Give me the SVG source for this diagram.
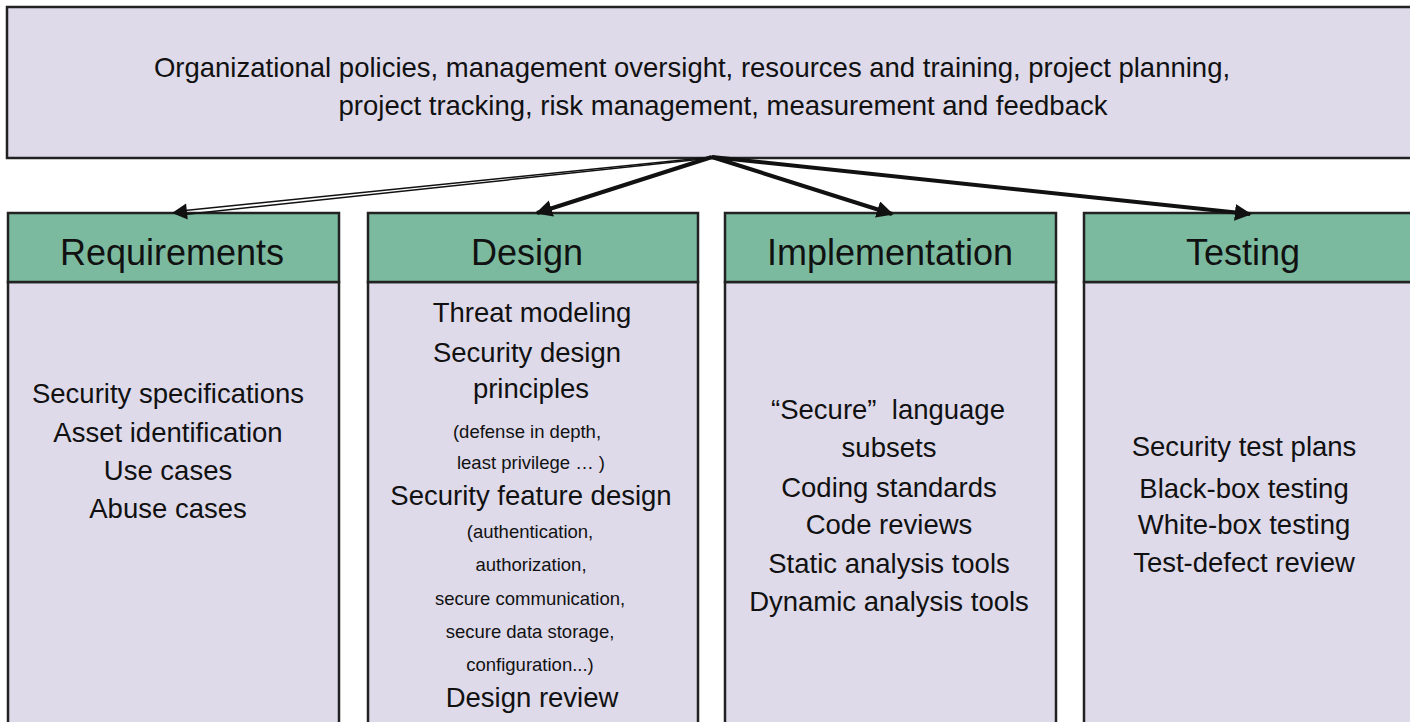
<svg xmlns="http://www.w3.org/2000/svg" width="1410" height="722" viewBox="0 0 1410 722">
<style>
.box{fill:#dedaea;stroke:#222;stroke-width:2.5}
.hdr{fill:#7bba9f;stroke:#222;stroke-width:2.5}
text{font-family:"Liberation Sans",Arial,sans-serif;fill:#111;text-anchor:middle}
.top{font-size:27.5px}
.h{font-size:36px}
.b{font-size:27.5px}
.s{font-size:18.5px}
.c{stroke:#111;stroke-width:4;fill:none}
</style>
<defs>
<marker id="ah" viewBox="0 0 10 10" refX="9" refY="5" markerWidth="4.2" markerHeight="4.2" orient="auto" markerUnits="strokeWidth">
<path d="M0,0 L10,5 L0,10 z" fill="#111"/>
</marker>
</defs>
<g id="top">
<rect class="box" x="7" y="7" width="1410" height="151"/>
<text class="top" x="692" y="77">Organizational policies, management oversight, resources and training, project planning,</text>
<text class="top" x="723" y="115">project tracking, risk management, measurement and feedback</text>
</g>
<g id="requirements">
<rect class="box" x="8" y="282" width="331" height="450"/>
<rect class="hdr" x="8" y="213" width="331" height="69"/>
<text class="h" x="172" y="265">Requirements</text>
<text class="b" x="168" y="403">Security specifications</text>
<text class="b" x="168" y="442">Asset identification</text>
<text class="b" x="168" y="480">Use cases</text>
<text class="b" x="168" y="518">Abuse cases</text>
</g>
<g id="design">
<rect class="box" x="368" y="282" width="330" height="450"/>
<rect class="hdr" x="368" y="213" width="330" height="69"/>
<text class="h" x="527" y="265">Design</text>
<text class="b" x="532" y="322">Threat modeling</text>
<text class="b" x="527" y="362">Security design</text>
<text class="b" x="531" y="398">principles</text>
<text class="s" x="527" y="438">(defense in depth,</text>
<text class="s" x="531" y="469">least privilege … )</text>
<text class="b" x="531" y="505">Security feature design</text>
<text class="s" x="530" y="538">(authentication,</text>
<text class="s" x="531" y="571">authorization,</text>
<text class="s" x="530" y="605">secure communication,</text>
<text class="s" x="530" y="638">secure data storage,</text>
<text class="s" x="530" y="671">configuration...)</text>
<text class="b" x="532" y="707">Design review</text>
</g>
<g id="implementation">
<rect class="box" x="725" y="282" width="331" height="450"/>
<rect class="hdr" x="725" y="213" width="331" height="69"/>
<text class="h" x="890" y="265">Implementation</text>
<text class="b" x="888" y="419" xml:space="preserve">“Secure”  language</text>
<text class="b" x="889" y="457">subsets</text>
<text class="b" x="889" y="497">Coding standards</text>
<text class="b" x="889" y="534">Code reviews</text>
<text class="b" x="889" y="573">Static analysis tools</text>
<text class="b" x="889" y="611">Dynamic analysis tools</text>
</g>
<g id="testing">
<rect class="box" x="1084" y="282" width="340" height="450"/>
<rect class="hdr" x="1084" y="213" width="340" height="69"/>
<text class="h" x="1243" y="265">Testing</text>
<text class="b" x="1244" y="456">Security test plans</text>
<text class="b" x="1244" y="498">Black-box testing</text>
<text class="b" x="1244" y="534">White-box testing</text>
<text class="b" x="1244" y="572">Test-defect review</text>
</g>
<g id="connectors">
<line x1="712" y1="157" x2="180" y2="211" stroke="#111" stroke-width="1.5"/>
<line x1="712" y1="158" x2="180" y2="215" stroke="#111" stroke-width="1.5"/>
<path d="M172,213 L187,205 L187,221 z" fill="#111" transform="rotate(-6 172 213)"/>
<line class="c" x1="712" y1="157" x2="537" y2="213" marker-end="url(#ah)"/>
<line class="c" x1="712" y1="157" x2="892" y2="214" marker-end="url(#ah)"/>
<line class="c" x1="712" y1="157" x2="1250" y2="214" marker-end="url(#ah)"/>
</g>
</svg>
